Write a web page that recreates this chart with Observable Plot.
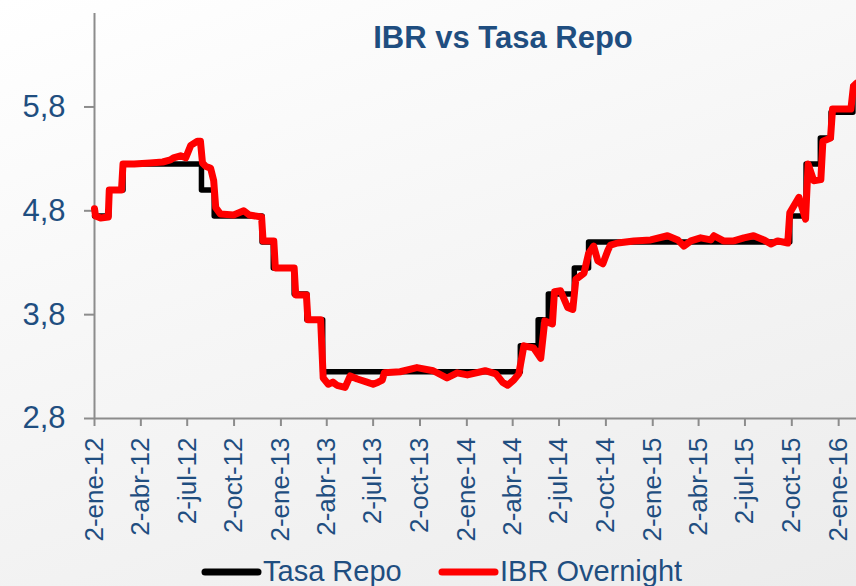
<!DOCTYPE html>
<html>
<head>
<meta charset="utf-8">
<script src="https://cdn.jsdelivr.net/npm/d3@7"></script>
<script src="https://cdn.jsdelivr.net/npm/@observablehq/plot@0.6"></script>
<style>
  html, body { margin: 0; padding: 0; }
  body { width: 856px; height: 586px; overflow: hidden;
    background: linear-gradient(160deg, #ffffff 0%, #f6f6f6 45%, #ececec 100%); }
  #wrap { position: relative; width: 856px; height: 586px; }
  #chart { position: absolute; left: 0; top: 0; }
  #overlay { position: absolute; left: 0; top: 0; pointer-events: none; }
</style>
</head>
<body>
<div id="wrap">
  <div id="chart"></div>
  <svg id="overlay" width="856" height="586"></svg>
</div>
<script>
// ---- Data ----
const title = "IBR vs Tasa Repo";
const seriesNames = ["Tasa Repo", "IBR Overnight"];

const yTicks = [2.8, 3.8, 4.8, 5.8];
const yTickLabels = ["2,8", "3,8", "4,8", "5,8"];

const xTickDates = ["2012-01-02","2012-04-02","2012-07-02","2012-10-02","2013-01-02","2013-04-02","2013-07-02","2013-10-02","2014-01-02","2014-04-02","2014-07-02","2014-10-02","2015-01-02","2015-04-02","2015-07-02","2015-10-02","2016-01-02"];
const xTickLabels = ["2-ene-12","2-abr-12","2-jul-12","2-oct-12","2-ene-13","2-abr-13","2-jul-13","2-oct-13","2-ene-14","2-abr-14","2-jul-14","2-oct-14","2-ene-15","2-abr-15","2-jul-15","2-oct-15","2-ene-16"];

// Tasa Repo: change dates and levels (step function)
const repoDates = ["2012-01-02","2012-01-30","2012-02-27","2012-07-30","2012-08-24","2012-11-26","2012-12-18","2013-01-28","2013-02-22","2013-03-25","2014-04-17","2014-05-22","2014-06-11","2014-08-01","2014-08-29","2015-09-28","2015-10-30","2015-11-27","2015-12-18","2016-01-30","2016-02-06"];
const repoValues = [4.75,5.00,5.25,5.00,4.75,4.50,4.25,4.00,3.75,3.25,3.50,3.75,4.00,4.25,4.50,4.75,5.25,5.50,5.75,6.00,6.00];

// IBR Overnight
const ibrDates = ["2012-01-02","2012-01-04","2012-01-14","2012-01-29","2012-01-31","2012-02-24","2012-02-27","2012-03-20","2012-04-20","2012-05-15","2012-05-30","2012-06-05","2012-06-19","2012-06-29","2012-07-09","2012-07-22","2012-07-28","2012-08-01","2012-08-07","2012-08-17","2012-08-23","2012-08-27","2012-09-05","2012-10-01","2012-10-21","2012-11-01","2012-11-25","2012-11-28","2012-12-19","2012-12-22","2013-01-28","2013-01-31","2013-02-21","2013-02-24","2013-03-21","2013-03-26","2013-04-05","2013-04-14","2013-04-22","2013-05-08","2013-05-18","2013-06-01","2013-06-20","2013-07-02","2013-07-12","2013-07-20","2013-07-24","2013-08-24","2013-09-26","2013-10-28","2013-11-24","2013-12-14","2014-01-03","2014-02-07","2014-02-28","2014-03-13","2014-03-23","2014-04-04","2014-04-14","2014-04-24","2014-05-13","2014-05-27","2014-06-04","2014-06-19","2014-06-23","2014-07-05","2014-07-19","2014-07-29","2014-08-04","2014-08-20","2014-08-29","2014-09-08","2014-09-16","2014-09-26","2014-10-06","2014-10-11","2014-10-25","2014-11-26","2014-12-29","2015-01-31","2015-02-20","2015-03-04","2015-03-18","2015-04-06","2015-04-26","2015-05-02","2015-05-21","2015-06-10","2015-06-30","2015-07-19","2015-08-08","2015-08-22","2015-09-04","2015-09-24","2015-09-28","2015-10-16","2015-10-29","2015-11-03","2015-11-14","2015-11-28","2015-12-02","2015-12-17","2015-12-21","2016-01-26","2016-01-31","2016-02-06"];
const ibrValues = [4.82,4.75,4.73,4.74,5.00,5.00,5.25,5.25,5.26,5.27,5.29,5.31,5.33,5.31,5.43,5.47,5.47,5.26,5.23,5.21,5.09,4.83,4.77,4.76,4.80,4.76,4.74,4.51,4.51,4.25,4.25,3.99,3.99,3.75,3.75,3.19,3.13,3.15,3.12,3.10,3.21,3.18,3.15,3.13,3.15,3.17,3.24,3.25,3.29,3.26,3.19,3.24,3.22,3.26,3.23,3.15,3.12,3.17,3.23,3.50,3.48,3.38,3.74,3.71,4.02,4.03,3.87,3.85,4.14,4.20,4.39,4.46,4.32,4.29,4.42,4.47,4.49,4.51,4.52,4.56,4.52,4.46,4.51,4.54,4.52,4.56,4.51,4.51,4.54,4.56,4.52,4.48,4.51,4.49,4.78,4.93,4.72,5.25,5.09,5.10,5.47,5.50,5.78,5.78,6.00,6.03];

const xStart = "2012-01-02", xEnd = "2016-02-06";
const yMin = 2.8, yMax = 6.7;

// ---- Build ----
const P = d3.utcParse("%Y-%m-%d");
const repo = repoDates.map((d, i) => ({date: P(d), value: repoValues[i]}));
const ibr = ibrDates.map((d, i) => ({date: P(d), value: ibrValues[i]}));
const xTicks = xTickDates.map(P);
const xLab = new Map(xTicks.map((t, i) => [+t, xTickLabels[i]]));
const yLab = new Map(yTicks.map((t, i) => [t, yTickLabels[i]]));

const textColor = "#1f4e80";
const axisGray = "#8c8c8c";

const chart = Plot.plot({
  width: 856,
  height: 586,
  marginLeft: 94,
  marginRight: 0,
  marginTop: 13,
  marginBottom: 168,
  style: {background: "transparent", fontFamily: "'Liberation Sans', Arial, sans-serif", fontSize: "26px", overflow: "visible"},
  x: {type: "utc", domain: [P(xStart), P(xEnd)]},
  y: {domain: [yMin, yMax]},
  marks: [
    Plot.axisY({ticks: yTicks, tickFormat: d => yLab.get(d), tickSize: 10, tickPadding: 19, stroke: axisGray, strokeWidth: 2, fill: textColor, fontSize: 31, label: null}),
    Plot.axisX({ticks: xTicks, tickFormat: d => xLab.get(+d), tickRotate: -90, tickSize: 8, tickPadding: 11, stroke: axisGray, strokeWidth: 2, fill: textColor, fontSize: 26, label: null}),
    Plot.ruleY([yMin], {stroke: axisGray, strokeWidth: 2}),
    Plot.ruleX([P(xStart)], {y1: yMin, y2: yMax, stroke: axisGray, strokeWidth: 2}),
    Plot.line(repo, {x: "date", y: "value", curve: "step-after", stroke: "#000000", strokeWidth: 5.5, strokeLinejoin: "round"}),
    Plot.line(ibr, {x: "date", y: "value", stroke: "#ff0000", strokeWidth: 7, strokeLinejoin: "round", strokeLinecap: "round"})
  ]
});
document.getElementById("chart").appendChild(chart);

// ---- Title and legend ----
const ov = d3.select("#overlay");
ov.append("text").attr("x", 503).attr("y", 48).attr("text-anchor", "middle")
  .attr("font-family", "'Liberation Sans', Arial, sans-serif").attr("font-weight", "bold")
  .attr("font-size", 31).attr("fill", textColor).text(title);

const legendItems = [
  {name: seriesNames[0], color: "#000000", x0: 205, x1: 258, tx: 263},
  {name: seriesNames[1], color: "#ff0000", x0: 442, x1: 495, tx: 500}
];
legendItems.forEach(it => {
  ov.append("line").attr("x1", it.x0).attr("x2", it.x1).attr("y1", 572).attr("y2", 572)
    .attr("stroke", it.color).attr("stroke-width", 7).attr("stroke-linecap", "round");
  ov.append("text").attr("x", it.tx).attr("y", 581)
    .attr("font-family", "'Liberation Sans', Arial, sans-serif").attr("font-size", 29)
    .attr("fill", textColor).text(it.name);
});
</script>
</body>
</html>
